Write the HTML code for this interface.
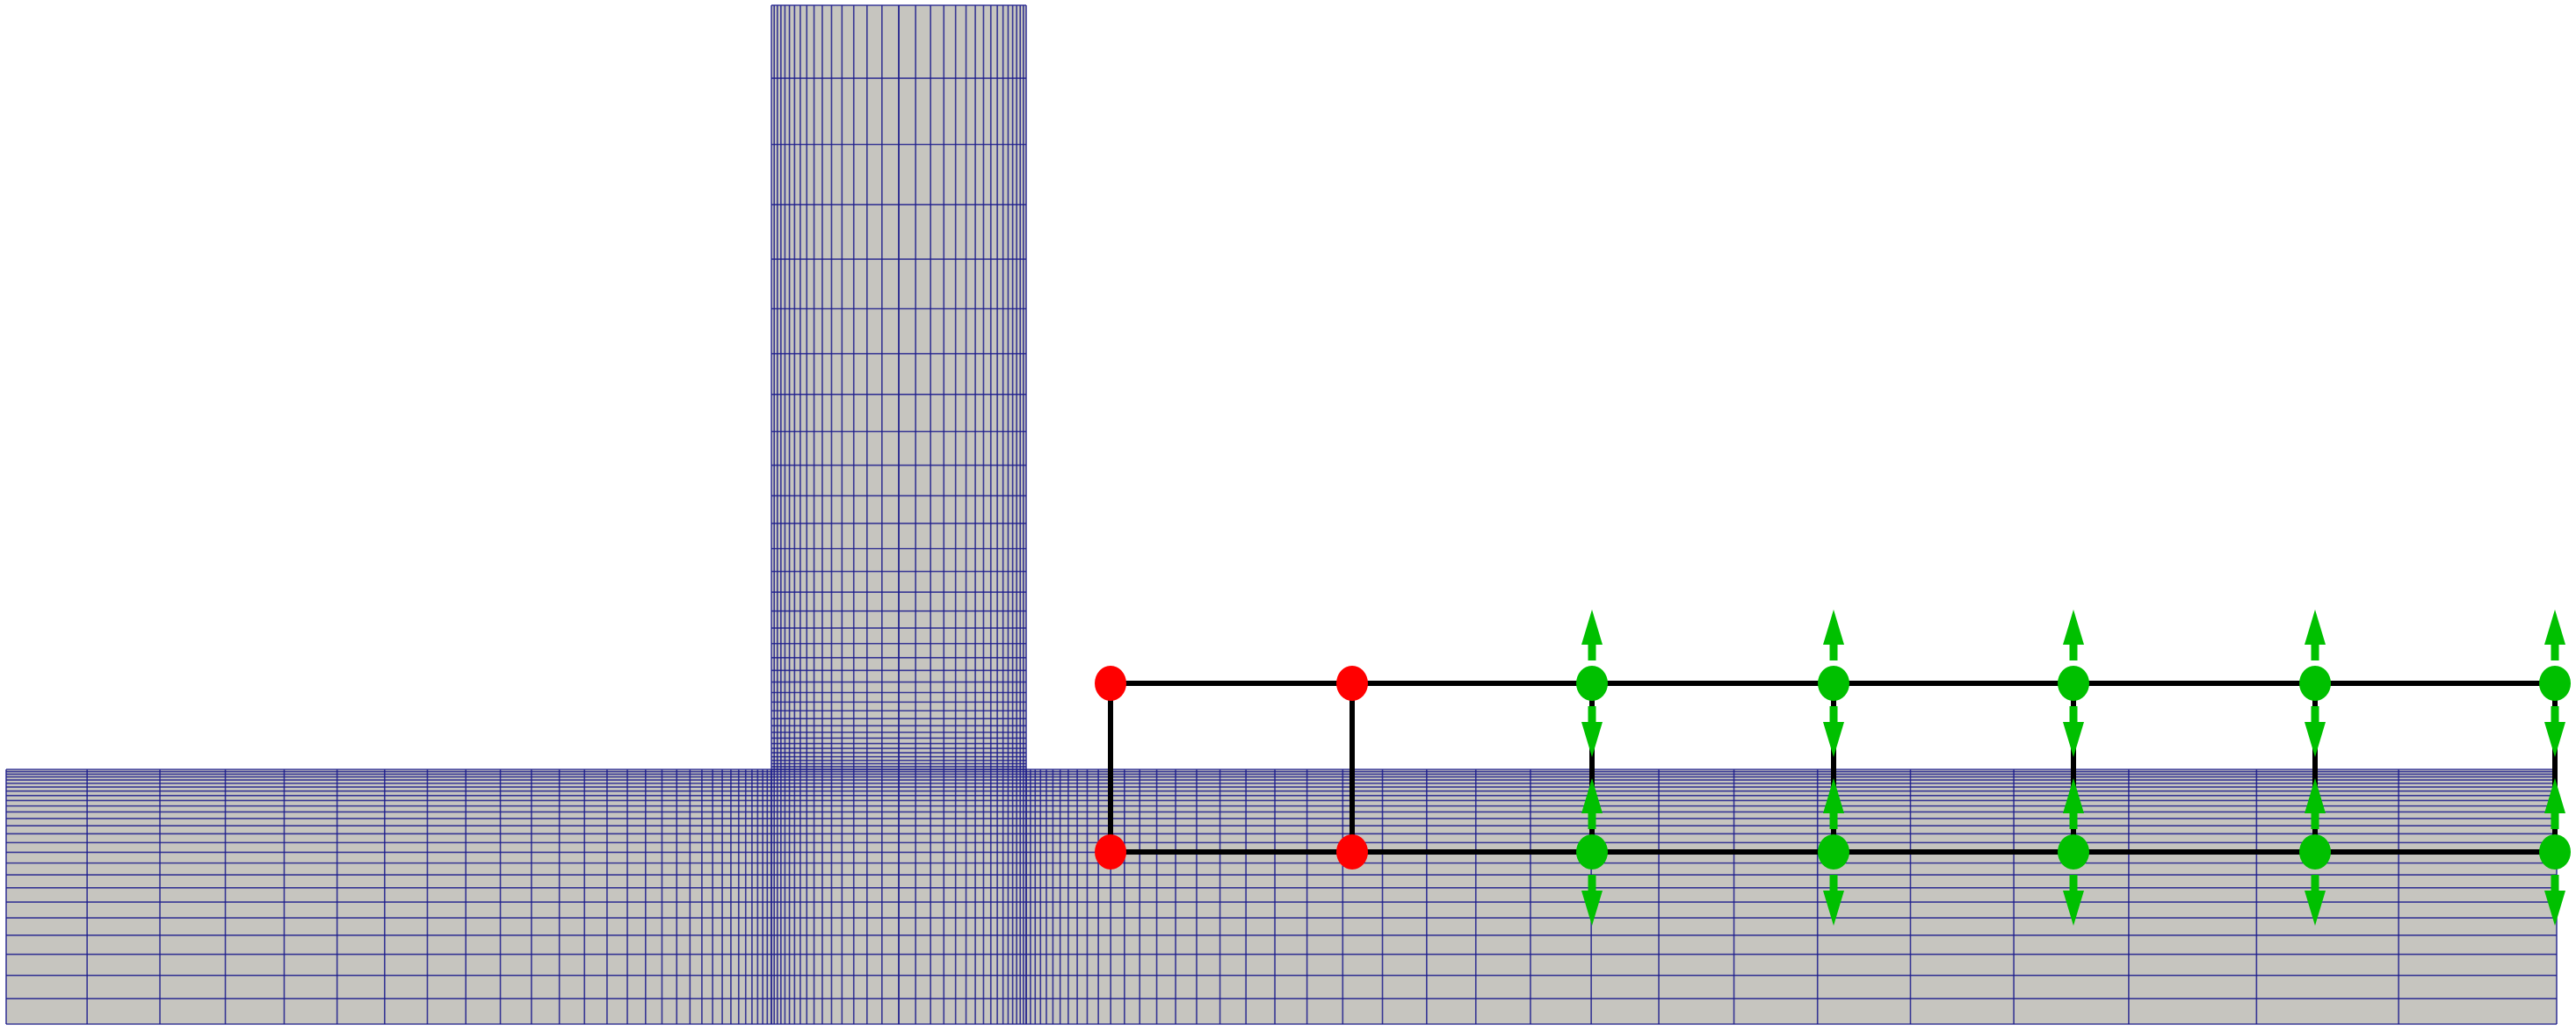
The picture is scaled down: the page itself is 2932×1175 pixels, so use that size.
<!DOCTYPE html>
<html><head><meta charset="utf-8"><style>
html,body{margin:0;padding:0;background:#fff;}
svg{display:block;}
</style></head><body>
<svg id="fig" width="2932" height="1175" viewBox="0 0 2932 1175" xmlns="http://www.w3.org/2000/svg">
<g id="mesh"></g>
<g id="frame"></g>
<g id="nodes"></g>
</svg>
<script>
// node data
const nodeColumnsX = [1264, 1539, 1812, 2087, 2360, 2635, 2908];
const nodeFixed = [true, true, false, false, false, false, false];
const rowTopY = 778;
const rowBotY = 970;

const NS = 'http://www.w3.org/2000/svg';
function mk(tag, attrs, parent){
  const e = document.createElementNS(NS, tag);
  for (const k in attrs) e.setAttribute(k, attrs[k]);
  parent.appendChild(e);
  return e;
}
function graded(L, s0, s1){
  const q = (L - s0) / (L - s1);
  const N = Math.max(1, Math.round(Math.log(s1 / s0) / Math.log(q) + 1));
  const sizes = []; let s = s0, tot = 0;
  for (let i = 0; i < N; i++){ sizes.push(s); tot += s; s *= q; }
  const pos = [0]; let acc = 0;
  for (const v of sizes){ acc += v * L / tot; pos.push(acc); }
  return pos;
}
const mesh = document.getElementById('mesh');
const CX0 = 878, CX1 = 1168, CT = 6, HT = 876, HB = 1166, LX = 7, RX = 2910;
const gray = '#c6c5bf', lc = '#1c1c8c';
let r = mk('rect', {x: LX, y: HT, width: RX - LX, height: HB - HT, fill: gray}, mesh);


r = mk('rect', {x: CX0, y: CT, width: CX1 - CX0, height: HT - CT, fill: gray}, mesh);



const xs = [];
graded(CX0 - LX, 4.5, 92).forEach(p => xs.push(CX0 - p));
graded(RX - CX1, 5, 180).forEach(p => xs.push(CX1 + p));
const half = graded((CX1 - CX0) / 2, 3, 19);
const colXs = [];
half.forEach(p => { colXs.push(CX0 + p); colXs.push(CX1 - p); });
const gv = mk('g', {stroke: lc, 'stroke-width': 1.6, 'stroke-opacity': 0.85}, mesh);


xs.forEach(x => mk('line', {x1: x, x2: x, y1: HT, y2: HB}, gv));
colXs.forEach(x => mk('line', {x1: x, x2: x, y1: CT, y2: HB}, gv));
const gh = mk('g', {stroke: lc, 'stroke-width': 1.6, 'stroke-opacity': 0.85}, mesh);


graded(HB - HT, 2.5, 29).forEach(p => mk('line', {x1: LX, x2: RX, y1: HT + p, y2: HT + p}, gh));
graded(HT - CT, 3, 83).forEach(p => mk('line', {x1: CX0, x2: CX1, y1: HT - p, y2: HT - p}, gh));

const frame = document.getElementById('frame');
const f = {stroke: '#000', 'stroke-width': 6, fill: 'none'};
const first = nodeColumnsX[0], last = nodeColumnsX[nodeColumnsX.length - 1];
mk('line', Object.assign({x1: first, x2: last, y1: rowTopY, y2: rowTopY}, f), frame);
mk('line', Object.assign({x1: first, x2: last, y1: rowBotY, y2: rowBotY}, f), frame);
nodeColumnsX.forEach(x => mk('line', Object.assign({x1: x, x2: x, y1: rowTopY, y2: rowBotY}, f), frame));

const nodes = document.getElementById('nodes');
const green = '#00c000';
function arrow(x, yFrom, yTip){
  const dir = Math.sign(yTip - yFrom);
  const g = mk('g', {}, nodes);
  
  
  mk('line', {x1: x, x2: x, y1: yFrom, y2: yTip - dir * 30, stroke: green, 'stroke-width': 9}, g);
  mk('polygon', {points: `${x-12},${yTip - dir*40} ${x+12},${yTip - dir*40} ${x},${yTip}`, fill: green}, g);
}
nodeColumnsX.forEach((x, i) => {
  [rowTopY, rowBotY].forEach((y, j) => {
    if (!nodeFixed[i]){
      arrow(x, y - 26, y - 84);
      arrow(x, y + 26, y + 84);
    }
    const c = mk('ellipse', {cx: x, cy: y, rx: 18, ry: 20, fill: nodeFixed[i] ? '#ff0000' : green}, nodes);
    
    
  });
});
</script>
</body></html>
